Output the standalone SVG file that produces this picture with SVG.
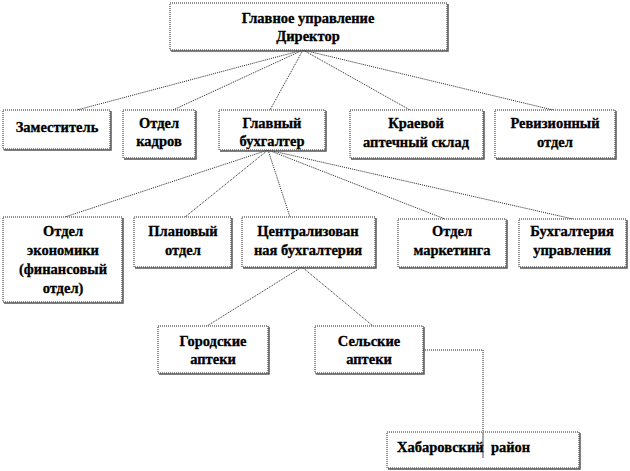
<svg xmlns="http://www.w3.org/2000/svg" width="630" height="471" viewBox="0 0 630 471">
<style>
.box{fill:#fff;stroke:#222;stroke-width:1;stroke-dasharray:1 1}
.sh{fill:none;stroke:#555;stroke-width:1.5}
text{font-family:"Times New Roman","Liberation Serif","DejaVu Serif",serif;font-weight:bold;font-size:14.5px;fill:#000;text-anchor:middle;stroke:#000;stroke-width:0.3}
.c{fill:none;stroke:#222;stroke-width:1;stroke-dasharray:1 1}
</style>
<rect width="630" height="471" fill="#fff"/>
<g id="connectors">
<line class="c" x1="303" y1="50" x2="77" y2="110"/>
<line class="c" x1="303" y1="50" x2="173" y2="110"/>
<line class="c" x1="303" y1="50" x2="270" y2="110"/>
<line class="c" x1="303" y1="50" x2="410" y2="110"/>
<line class="c" x1="303" y1="50" x2="553" y2="110"/>
<line class="c" x1="268" y1="150" x2="65" y2="217"/>
<line class="c" x1="268" y1="150" x2="185" y2="217"/>
<line class="c" x1="268" y1="150" x2="290" y2="217"/>
<line class="c" x1="268" y1="150" x2="445" y2="219"/>
<line class="c" x1="268" y1="150" x2="573" y2="219"/>
<line class="c" x1="302" y1="267" x2="207" y2="326"/>
<line class="c" x1="302" y1="267" x2="373" y2="326"/>
<polyline class="c" points="423,350 483,350 483,432"/>
</g>
<g id="n-main"><rect class="box" x="170" y="3" width="277" height="47"/><polyline class="sh" points="448,4 448,51 171,51"/><text x="308" y="23">Главное управление</text><text x="308" y="41">Директор</text></g>
<g id="n-zam"><rect class="box" x="3" y="110" width="107" height="39"/><polyline class="sh" points="111,111 111,150 4,150"/><text x="57" y="132">Заместитель</text></g>
<g id="n-kadr"><rect class="box" x="123" y="110" width="72" height="48"/><polyline class="sh" points="196,111 196,159 124,159"/><text x="159" y="128">Отдел</text><text x="159" y="146">кадров</text></g>
<g id="n-buh"><rect class="box" x="219" y="110" width="106" height="40"/><polyline class="sh" points="326,111 326,151 220,151"/><text x="272" y="128">Главный</text><text x="272" y="146">бухгалтер</text></g>
<g id="n-sklad"><rect class="box" x="350" y="110" width="133" height="48"/><polyline class="sh" points="484,111 484,159 351,159"/><text x="416" y="128">Краевой</text><text x="416" y="147">аптечный склад</text></g>
<g id="n-rev"><rect class="box" x="495" y="110" width="120" height="48"/><polyline class="sh" points="616,111 616,159 496,159"/><text x="555" y="128">Ревизионный</text><text x="555" y="147">отдел</text></g>
<g id="n-econ"><rect class="box" x="3" y="217" width="119" height="85"/><polyline class="sh" points="123,218 123,303 4,303"/><text x="63" y="236">Отдел</text><text x="63" y="255">экономики</text><text x="63" y="274">(финансовый</text><text x="63" y="293">отдел)</text></g>
<g id="n-plan"><rect class="box" x="134" y="217" width="97" height="50"/><polyline class="sh" points="232,218 232,268 135,268"/><text x="183" y="236">Плановый</text><text x="183" y="255">отдел</text></g>
<g id="n-centr"><rect class="box" x="242" y="217" width="133" height="50"/><polyline class="sh" points="376,218 376,268 243,268"/><text x="308" y="236">Централизован</text><text x="308" y="255">ная бухгалтерия</text></g>
<g id="n-mark"><rect class="box" x="398" y="219" width="108" height="48"/><polyline class="sh" points="507,220 507,268 399,268"/><text x="452" y="236">Отдел</text><text x="452" y="255">маркетинга</text></g>
<g id="n-buhupr"><rect class="box" x="519" y="219" width="107" height="48"/><polyline class="sh" points="627,220 627,268 520,268"/><text x="572" y="236">Бухгалтерия</text><text x="572" y="255">управления</text></g>
<g id="n-gor"><rect class="box" x="158" y="326" width="110" height="47"/><polyline class="sh" points="269,327 269,374 159,374"/><text x="213" y="346">Городские</text><text x="213" y="364">аптеки</text></g>
<g id="n-sel"><rect class="box" x="315" y="326" width="108" height="47"/><polyline class="sh" points="424,327 424,374 316,374"/><text x="369" y="346">Сельские</text><text x="369" y="364">аптеки</text></g>
<g id="n-hab"><rect class="box" x="387" y="432" width="192" height="36"/><polyline class="sh" points="580,433 580,469 388,469"/><line x1="483" y1="432" x2="483" y2="458" stroke="#888" stroke-width="1.5"/><text x="397" y="452" style="text-anchor:start" xml:space="preserve">Хабаровский  район</text></g>
</svg>
